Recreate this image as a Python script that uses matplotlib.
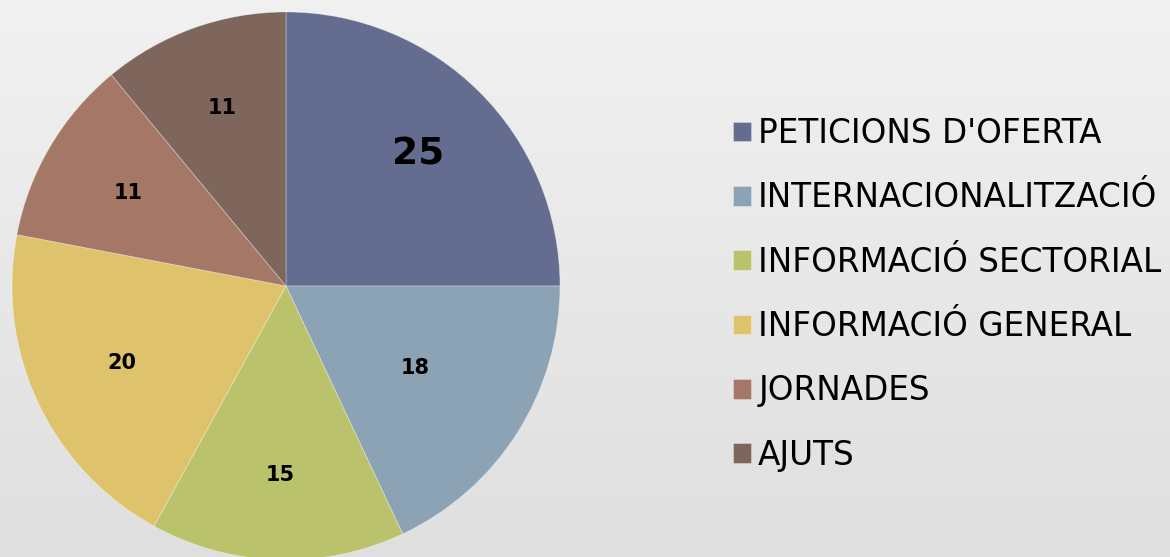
import numpy as np
import matplotlib
matplotlib.use("Agg")
import matplotlib.pyplot as plt

categories = ["PETICIONS D'OFERTA", "INTERNACIONALITZACIÓ", "INFORMACIÓ SECTORIAL",
              "INFORMACIÓ GENERAL", "JORNADES", "AJUTS"]
values = [25, 18, 15, 20, 11, 11]
colors = ["#646c8f", "#8ca3b5", "#bac36b", "#dfc36c", "#a57766", "#7e665d"]
label_radius = [0.68, 0.56, 0.69, 0.66, 0.67, 0.69]
label_sizes = [27, 15, 15, 15, 15, 15]

W, H = 1170, 557
fig = plt.figure(figsize=(W / 100, H / 100), dpi=100)

# background gradient
bg = fig.add_axes([0, 0, 1, 1])
grad = np.linspace(0, 1, 256).reshape(-1, 1)
top = np.array([0.945, 0.945, 0.945])
bot = np.array([0.875, 0.875, 0.875])
img = (top + (bot - top) * grad[..., None]).reshape(256, 1, 3)
bg.imshow(img, aspect="auto", extent=[0, 1, 0, 1], origin="upper")
bg.set_axis_off()

# pie
cx, cy, r = 286, 286, 274
ax = fig.add_axes([(cx - r) / W, (H - cy - r) / H, 2 * r / W, 2 * r / H])
wedges, _ = ax.pie(values, colors=colors, startangle=90, counterclock=False,
                   wedgeprops=dict(linewidth=0.6, edgecolor=(1, 1, 1, 0.35)))
ax.set_xlim(-1, 1)
ax.set_ylim(-1, 1)
ax.set_aspect("equal")
ax.set_axis_off()

total = sum(values)
start = 90.0
for v, rad, fs in zip(values, label_radius, label_sizes):
    span = 360.0 * v / total
    mid = np.deg2rad(start - span / 2)
    ax.text(rad * np.cos(mid), rad * np.sin(mid), str(v), ha="center", va="center",
            fontsize=fs, fontweight="bold", family="DejaVu Sans", color="black")
    start -= span

# legend
fs_leg = 23.5
fig.legend(wedges, categories, loc="upper left",
           bbox_to_anchor=(733 / W, 1 - 117 / H), frameon=False,
           fontsize=fs_leg, handlelength=0.55, handleheight=0.55,
           handletextpad=0.22, labelspacing=0.96, borderaxespad=0, borderpad=0)

fig.savefig("out.png", dpi=100)
